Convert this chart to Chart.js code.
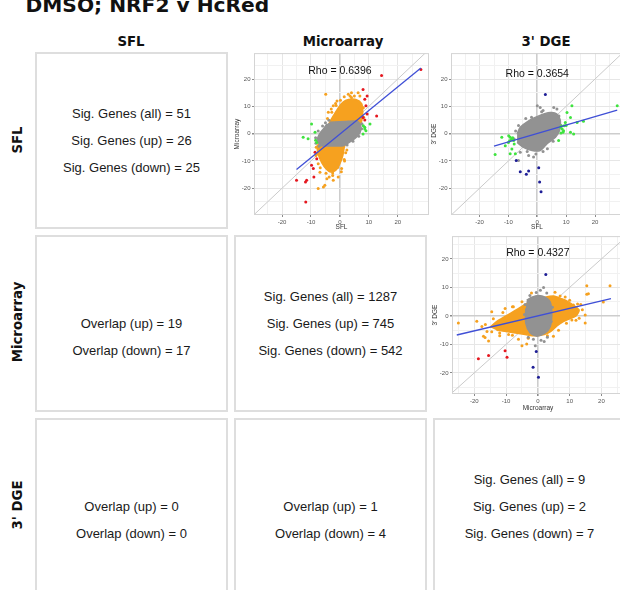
<!DOCTYPE html>
<html>
<head>
<meta charset="utf-8">
<script src="https://cdn.jsdelivr.net/npm/chart.js@4.4.1/dist/chart.umd.min.js"></script>
<style>
  html, body { margin: 0; padding: 0; background: #fff; }
  body { width: 620px; height: 590px; position: relative; overflow: hidden; font-family: 'Liberation Sans', Arial, sans-serif; }
  .title { position: absolute; left: 25.5px; top: -5.5px; font: bold 20.2px 'DejaVu Sans'; line-height: 20px; color: #111; white-space: nowrap; }
  .colhead { position: absolute; top: 33.5px; font: bold 13.3px 'DejaVu Sans'; line-height: 16px; color: #111; white-space: nowrap; transform: translateX(-50%); }
  .rowhead { position: absolute; left: 18px; font: bold 13.3px 'DejaVu Sans'; line-height: 16px; color: #111; white-space: nowrap; transform: translate(-50%, -50%) rotate(-90deg); }
  .box { position: absolute; width: 193px; height: 177px; box-sizing: border-box; border: 2px solid #dedede; background: #fff; }
  .ln { position: absolute; left: 0; right: 0; text-align: center; font-size: 13px; line-height: 16px; color: #1a1a1a; white-space: nowrap; }
  canvas { position: absolute; }
</style>
</head>
<body>
<div class="title">DMSO; NRF2 v HcRed</div>

<div class="colhead" style="left:131px">SFL</div>
<div class="colhead" style="left:343px">Microarray</div>
<div class="colhead" style="left:546px">3' DGE</div>

<div class="rowhead" style="top:140px">SFL</div>
<div class="rowhead" style="top:322px">Microarray</div>
<div class="rowhead" style="top:505px">3' DGE</div>

<!-- row 1 -->
<div class="box" style="left:35px;top:52px">
  <div class="ln" style="top:51.5px">Sig. Genes (all) = 51</div>
  <div class="ln" style="top:78.5px">Sig. Genes (up) = 26</div>
  <div class="ln" style="top:105.5px">Sig. Genes (down) = 25</div>
</div>
<!-- row 2 -->
<div class="box" style="left:35px;top:235px">
  <div class="ln" style="top:78.5px">Overlap (up) = 19</div>
  <div class="ln" style="top:105.5px">Overlap (down) = 17</div>
</div>
<div class="box" style="left:234px;top:235px">
  <div class="ln" style="top:51.5px">Sig. Genes (all) = 1287</div>
  <div class="ln" style="top:78.5px">Sig. Genes (up) = 745</div>
  <div class="ln" style="top:105.5px">Sig. Genes (down) = 542</div>
</div>
<!-- row 3 -->
<div class="box" style="left:35px;top:418px">
  <div class="ln" style="top:78.5px">Overlap (up) = 0</div>
  <div class="ln" style="top:105.5px">Overlap (down) = 0</div>
</div>
<div class="box" style="left:234px;top:418px">
  <div class="ln" style="top:78.5px">Overlap (up) = 1</div>
  <div class="ln" style="top:105.5px">Overlap (down) = 4</div>
</div>
<div class="box" style="left:433px;top:418px">
  <div class="ln" style="top:51.5px">Sig. Genes (all) = 9</div>
  <div class="ln" style="top:78.5px">Sig. Genes (up) = 2</div>
  <div class="ln" style="top:105.5px">Sig. Genes (down) = 7</div>
</div>

<canvas id="sflMicro" width="201" height="185" style="left:232px;top:48px"></canvas>
<canvas id="sflDge" width="198" height="185" style="left:429px;top:48px"></canvas>
<canvas id="microDge" width="198" height="183" style="left:430px;top:231px"></canvas>

<script>
// ---- values (log fold changes) ----

// SFL (x) vs Microarray (y)
const aGrayCore = [[-3.4,4.2],[0,4.4],[3,4.5],[5.9,4.6],[7.2,3],[7,0.5],[5.5,-1.5],[3.5,-3],[1.2,-4.4],[-2,-4.5],[-6.5,-4.4],[-7.8,-2.5],[-7,0],[-5.5,2],[-4.5,3.5]];
const aGrayPts = [[-8.3,-3.5],[-8.4,-1.5],[-7.5,1],[-6,2.8],[7.5,1.8],[7.6,3.6],[6.5,-1],[4.5,-2.8],[-5,4],[-3.8,4.9],[2.5,-4.2],[-7.2,-4.6]];
const aOrangeTop = [[-4,3],[-3.4,4.5],[-2,7],[-0.5,9.5],[1,11.5],[3,12.5],[5.5,12.5],[7.5,11],[7.9,8],[7.6,5],[7,3]];
const aOrangeBottom = [[-7,-3],[2,-3],[1.5,-5],[1,-8],[0,-11],[-1.5,-13.5],[-3.5,-14],[-5.5,-12],[-7,-9],[-7.8,-6],[-7.8,-4]];
const aOrangePts = [[-4.9,14.4],[6.3,15],[6.9,13.8],[2.9,14.4],[-2.3,10.2],[-4,7.8],[-3,9],[0.6,-12.8],[-0.6,-15.9],[-2.3,-17.1],
  [-5.7,-19.5],[-7.5,-20.1],[-6.9,-14.1],[-5.2,-18.9],[-3.7,-15.9],[-2.5,-15.3],[4,15],[1.5,13.5],[-1,12],[7,9.5],
  [1.5,-9.5],[2,-7],[-7.5,-11],[-8,-7.5],[0.5,-14],[-4.5,-16.5],[5,13.8],[-1.5,11],[3.5,13.8],[-4.3,5.5],
  [-2.8,7.8],[-1.3,10.3],[0.2,12.2],[4,13.2],[8.1,9.5],[8.2,6],[-8.2,-5],[-8.3,-8],[-6.8,-12.5],[-4.8,-14.5],
  [-2.5,-14.4],[1.6,-10],[2.4,-6],[-0.8,-12.4]];
const aGreenPts = [[-9.8,3.5],[-8.6,0.5],[-11,-1.9],[-12.7,-1.3],[-8,-3.2],[-8.4,-2.4],[8.6,2.3],[9,1.1],[8,-0.1],[10.4,3.5],[8.1,2.9],[8.6,1.7]];
const aRedPts = [[8,16.2],[9.4,13.8],[9,10.2],[12.7,6.5],[8,5.9],[8.6,5],[9.4,7.2],[8.6,12.6],[14.4,21.3],[28,23.5],
  [-8.6,-6.8],[-8,-9.2],[-9.8,-11.6],[-9.2,-12.8],[-11.5,-17.1],[-15,-17.1],[-11.9,-17.7],[-9,-15.9],[-11.8,-25]];
const aFit = [[-15,-13.1],[28,24]];

// SFL (x) vs 3' DGE (y)
const bGrayCore = [[-7,-0.1],[-5.9,2.3],[-3,4.7],[0.5,6.5],[4.5,7.7],[6.8,7.2],[8,4.7],[7.7,1.1],[6.3,-1.3],[3.4,-3.7],[1,-6.2],[-1.8,-6.2],[-4.8,-5],[-7,-3.2]];
const bGrayPts = [[0,10.2],[1,9.6],[5.7,9.6],[6.8,9],[-1.3,-8.6],[-3,-8],[-6.5,-9.8],[-5.9,-6.8],[2,8.5],[-2,6],[3.5,-5.5],
  [-0.5,-7.5],[7.5,6.5],[-7.5,1],[-6.5,3],[-4,5.5],[2,-6.5],[5.5,-2.8],[8.2,3],[-8,-2],[1.5,8],[-3.5,-6.5]];
const bGreenPts = [[-8.8,-1.9],[-9.4,-1.3],[-8.2,-2.5],[-9,-2.2],[-8.5,-1.5],[-9.6,-2.6],[-10,-3.2],[-12.3,-1.3],[-14.6,-7.6],
  [-9.4,-7.4],[-7.6,-7.4],[-11.1,-4.4],[-8.8,-5.6],[-9.9,-0.8],[-8,-3.8],[8.6,1.7],[8,2.3],[9.1,1.1],[8.9,0.5],[9.7,4.1],
  [11.5,5.9],[12,10.2],[10.3,7.7],[11.5,0.5],[7.4,-2.5],[13.8,4.1],[16,4.5],[27.7,10.2],[8.4,2.8],[9.3,2.9],[8.2,0.2],[12.6,-0.1],[10,3]];
const bBluePts = [[2.8,14.3],[-7.3,-9.8],[-5.9,-14],[-3.8,-14.9],[-3,-13.7],[0.5,-12.5],[0.8,-17.7],[1.3,-21.3]];
const bFit = [[-15,-4.6],[27.7,8.6]];

// Microarray (x) vs 3' DGE (y)
const cOrangeCore = [[-15,-4],[-13,-2],[-10,0],[-7,2],[-4,4],[-1,5.5],[2,6.5],[5,7],[7.5,6],[9.5,5],[11.5,3.5],[13,2],[12,0],
  [10,-1],[8,-2],[6,-3.5],[4,-5.5],[2,-6.5],[-1,-7],[-4,-6.5],[-7,-6],[-10,-5.5],[-13,-5]];
const cOrangePts = [[-25,-2.5],[-19.2,-1.9],[-17.6,-3.7],[-17.1,-7.1],[-15.5,-8.8],[-9.2,-6.5],[-6.1,-8.2],[-5,-10.5],[-3.5,-9.9],
  [-14.5,1.5],[-10.3,2.6],[-7.7,3.2],[15.4,10.6],[15.9,7.8],[22.7,10.6],[20.6,4.9],[14.9,-2.5],[11.2,3.8],[8.6,6.6],[5.4,8.3],
  [3.3,-5.4],[4.9,-7.1],[14.9,0.3],[10.7,-1.4],[-16.6,-7.6],[15.4,7.6],[-16,-5.5],[-16.5,-3],[13.5,4],[12,-1.5],[-12,-7],
  [6.5,-5],[-2,8],[-14,-1],[-11,1.2],[-8,3.2],[-5,5],[7,7],[10,5.5],[12.5,4.2],[14,2.2],[13,-0.8],[9,-2.6],[-12,-6],
  [-8,-6.8],[-3,-7.8],[3,-7],[-14.5,-5.6]];
const cGrayCore = [[-3.5,5.5],[-1.9,6.6],[0.2,7.2],[2.3,6.6],[3.9,4.9],[4.4,0.3],[3.9,-3.7],[2.3,-6],[-0.3,-7.1],[-2.4,-6],[-3.8,-2.5],[-3.8,2.6]];
const cGrayPts = [[1.8,10],[0.8,9],[-0.5,8.2],[2.8,8],[-1.4,-8.2],[-0.8,-10.5],[2,-9],[3,-7.5],[-3,-7.5],[4.6,3],[-4.2,0.5],[-4,4],[4.2,-2],[1,-8.5],[-2.5,7.2]];
const cRedPts = [[-18.7,-15],[-15.5,-13.9],[-10.3,-12.2],[-9.7,-14.5]];
const cBluePts = [[2.5,14.5],[-0.5,-12.5],[-1.5,-18],[0.2,-21.5]];
const cFit = [[-25.5,-6.7],[23,6.1]];

const identity = [[-40,-40],[40,40]];
const rhoLabels = ['Rho = 0.6396', 'Rho = 0.3654', 'Rho = 0.4327'];

const ORANGE = '#f6a11f', GRAY = '#929292', GREEN = '#3fe33f', RED = '#e5171f', NAVY = '#1e1e96', FIT = '#3f4fd6';

Chart.defaults.font.family = "'Liberation Sans', Arial, sans-serif";

const pts = arr => arr.map(([x, y]) => ({ x, y }));
const dots = (arr, color, order) => ({ data: pts(arr), backgroundColor: color, borderWidth: 0, pointRadius: 1.5, order });
const blob = (arr, color, order) => ({ data: pts(arr), showLine: true, fill: 'shape', backgroundColor: color,
  borderColor: color, borderWidth: 1.5, pointRadius: 0, tension: 0.25, order });
const line = (arr, color, width, order) => ({ data: pts(arr), showLine: true, fill: false, borderColor: color,
  borderWidth: width, pointRadius: 0, order });

const labelled = v => v % 10 === 0 && Math.abs(v) <= 20;
const gridColor = ctx => {
  const v = ctx.tick ? ctx.tick.value : null;
  if (v === 0) return '#cdcdcd';
  if (Math.abs(v) >= 30) return 'rgba(0,0,0,0)';
  return v % 10 === 0 ? '#e6e6e6' : '#f1f1f1';
};
const gridWidth = ctx => (ctx.tick && ctx.tick.value === 0 ? 1.6 : 1);
const tickColor = ctx => (ctx.tick && labelled(ctx.tick.value) ? '#8a8a8a' : 'rgba(0,0,0,0)');

// frame around the plotting area + the correlation label
const panelDecor = {
  id: 'panelDecor',
  afterDatasetsDraw(chart, args, opts) {
    const { ctx, chartArea: a, scales } = chart;
    ctx.save();
    ctx.font = "10.5px 'Liberation Sans'";
    ctx.fillStyle = '#111';
    ctx.textAlign = 'center';
    ctx.textBaseline = 'middle';
    ctx.fillText(opts.label, scales.x.getPixelForValue(opts.at[0]), scales.y.getPixelForValue(opts.at[1]));
    ctx.strokeStyle = '#d4d4d4';
    ctx.lineWidth = 1;
    ctx.strokeRect(a.left + 0.5, a.top + 0.5, a.width - 1, a.height - 1);
    ctx.restore();
  }
};

function axis(range, title, isX, size) {
  return {
    type: 'linear',
    min: range[0],
    max: range[1],
    border: { display: false },
    grid: { color: gridColor, lineWidth: gridWidth, tickColor, tickLength: 2, drawTicks: true },
    ticks: {
      stepSize: 5, includeBounds: false, autoSkip: false, maxRotation: 0, padding: 1.5,
      color: '#555', font: { size: 6 },
      callback: v => (labelled(v) ? String(v) : '')
    },
    title: { display: true, text: title, color: '#333', font: { size: 6.5 },
      padding: isX ? { top: 0, bottom: 1.5 } : { top: 1, bottom: 0 } },
    afterFit: s => { if (isX) s.height = size; else s.width = size; }
  };
}

function scatterPanel(id, xRange, yRange, xTitle, yTitle, datasets, rho, rhoAt, xSize) {
  new Chart(document.getElementById(id), {
    type: 'scatter',
    data: { datasets },
    options: {
      responsive: false,
      animation: false,
      events: [],
      layout: { padding: { top: 4, right: 4, left: 0, bottom: 0 } },
      scales: { x: axis(xRange, xTitle, true, xSize), y: axis(yRange, yTitle, false, 22) },
      plugins: { legend: { display: false }, tooltip: { enabled: false }, panelDecor: { label: rho, at: rhoAt } }
    },
    plugins: [panelDecor]
  });
}

scatterPanel('sflMicro', [-29.7, 30.8], [-29.8, 29.5], 'SFL', 'Microarray', [
  line(identity, '#cacaca', 1, 20),
  blob(aOrangeTop, ORANGE, 15),
  blob(aOrangeBottom, ORANGE, 15),
  dots(aOrangePts, ORANGE, 14),
  blob(aGrayCore, GRAY, 12),
  dots(aGrayPts, GRAY, 11),
  dots(aGreenPts, GREEN, 6),
  dots(aRedPts, RED, 5),
  line(aFit, FIT, 1.3, 1)
], rhoLabels[0], [0, 23], 18);

scatterPanel('sflDge', [-29.9, 29.7], [-29.8, 29.5], 'SFL', "3' DGE", [
  line(identity, '#cacaca', 1, 20),
  blob(bGrayCore, GRAY, 12),
  dots(bGrayPts, GRAY, 11),
  dots(bGreenPts, GREEN, 6),
  dots(bBluePts, NAVY, 4),
  line(bFit, FIT, 1.3, 1)
], rhoLabels[1], [0, 21.8], 18);

scatterPanel('microDge', [-27, 27.1], [-27.4, 28], 'Microarray', "3' DGE", [
  line(identity, '#cacaca', 1, 20),
  blob(cOrangeCore, ORANGE, 15),
  dots(cOrangePts, ORANGE, 14),
  blob(cGrayCore, GRAY, 12),
  dots(cGrayPts, GRAY, 11),
  dots(cRedPts, RED, 5),
  dots(cBluePts, NAVY, 4),
  line(cFit, FIT, 1.3, 1)
], rhoLabels[2], [0, 22], 20);
</script>
</body>
</html>
